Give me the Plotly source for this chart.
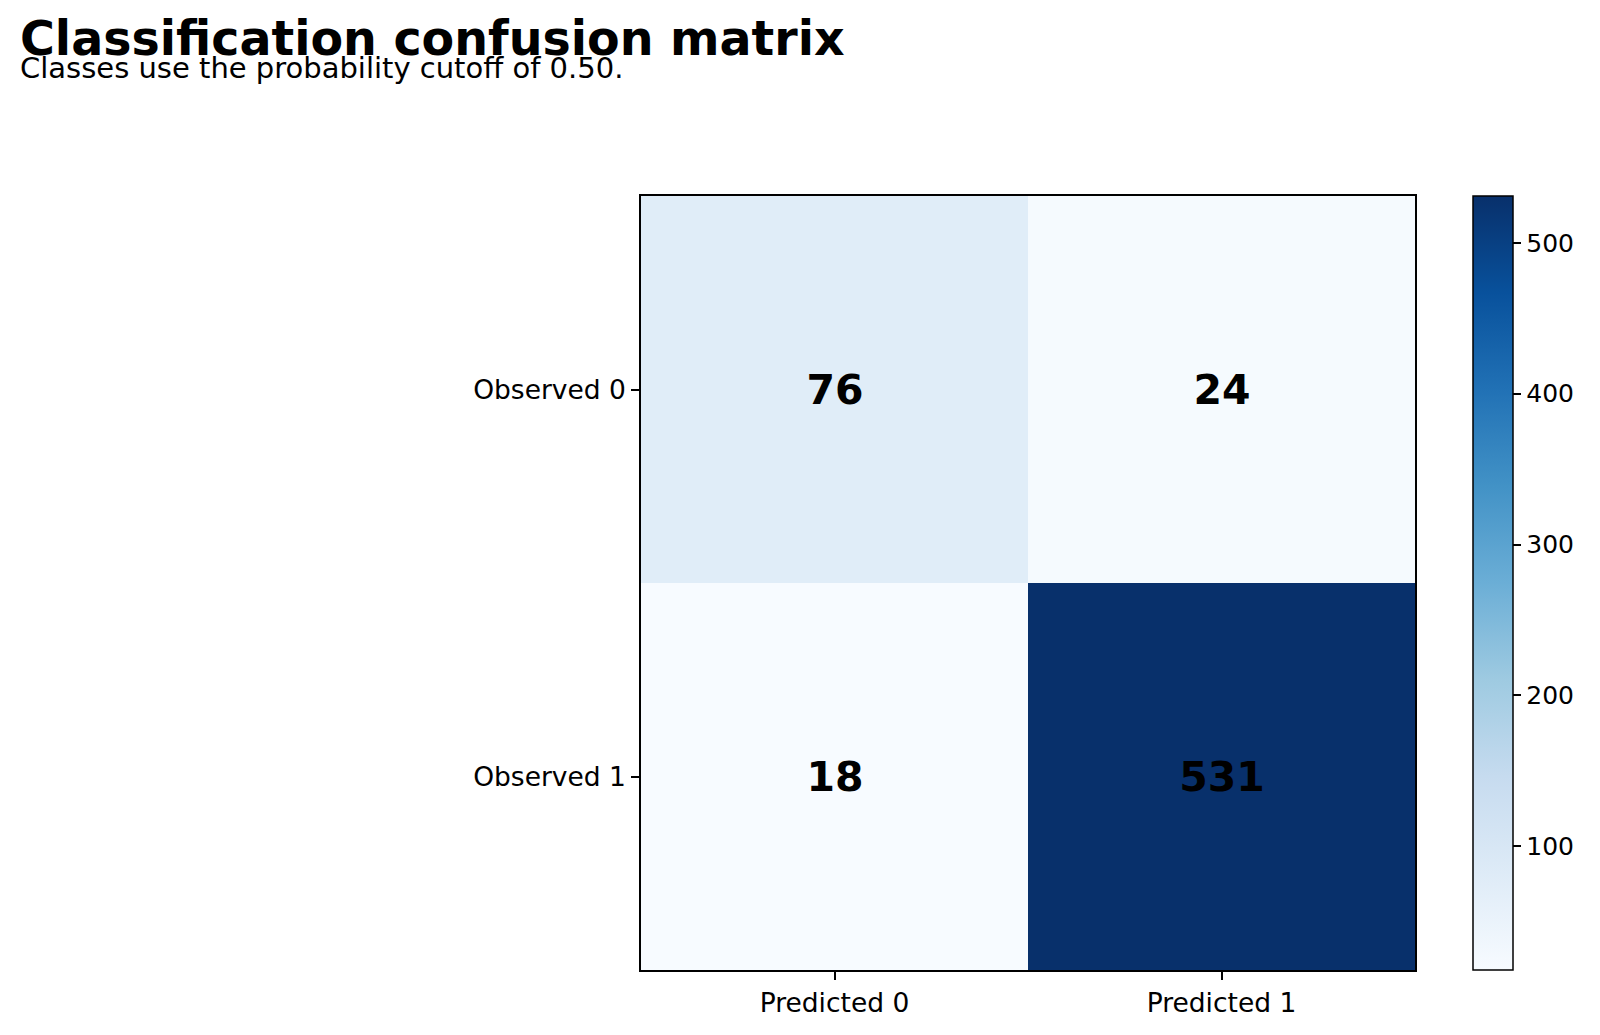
import plotly.graph_objects as go

predicted_labels = ["Predicted 0", "Predicted 1"]
observed_labels = ["Observed 0", "Observed 1"]
row_observed_0 = [76, 24]
row_observed_1 = [18, 531]
colorbar_ticks = [100, 200, 300, 400, 500]

title_text = "Classification confusion matrix"
subtitle_text = "Classes use the probability cutoff of 0.50."

z = [row_observed_0, row_observed_1]
zmin = min(min(r) for r in z)
zmax = max(max(r) for r in z)

blues = [
    [0.0, "#f7fbff"], [0.125, "#deebf7"], [0.25, "#c6dbef"], [0.375, "#9ecae1"],
    [0.5, "#6baed6"], [0.625, "#4292c6"], [0.75, "#2171b5"], [0.875, "#08519c"],
    [1.0, "#08306b"],
]

FONT = "DejaVu Sans"
W, H = 1600, 1035
L, R, T, B = 641, 185, 196, 65
plot_w = W - L - R
plot_h = H - T - B

fig = go.Figure(go.Heatmap(
    z=z, x=predicted_labels, y=observed_labels,
    zmin=zmin, zmax=zmax, colorscale=blues,
    text=[[str(v) for v in r] for r in z],
    texttemplate="<b>%{text}</b>",
    textfont=dict(family=FONT, size=41, color="black"),
    xgap=0, ygap=0,
    colorbar=dict(
        thicknessmode="pixels", thickness=40,
        lenmode="pixels", len=plot_h,
        x=(1473 - L) / plot_w, xanchor="left",
        y=0.5, yanchor="middle",
        outlinewidth=1.5, outlinecolor="black",
        tickmode="array", tickvals=colorbar_ticks,
        ticks="outside", ticklen=8, tickwidth=1.5, tickcolor="black",
        tickfont=dict(family=FONT, size=25, color="black"),
        xpad=0, ypad=0,
    ),
    hoverinfo="skip",
))

axis_common = dict(
    showline=True, linecolor="black", linewidth=1.5, mirror=True,
    ticks="outside", ticklen=8, tickwidth=1.5, tickcolor="black",
    tickfont=dict(family=FONT, size=26.5, color="black"),
    showgrid=False, zeroline=False,
)
fig.update_xaxes(**axis_common)
fig.update_yaxes(autorange="reversed", **axis_common)

fig.update_layout(
    width=W, height=H,
    margin=dict(l=L, r=R, t=T, b=B),
    paper_bgcolor="white", plot_bgcolor="white",
    font=dict(family=FONT, color="black"),
    annotations=[
        dict(text="<b>" + title_text + "</b>", xref="paper", yref="paper",
             x=-(L - 18) / plot_w, y=1 + (T - 9) / plot_h,
             xanchor="left", yanchor="top", showarrow=False,
             font=dict(family=FONT, size=47.5, color="black")),
        dict(text=subtitle_text, xref="paper", yref="paper",
             x=-(L - 18) / plot_w, y=1 + (T - 49) / plot_h,
             xanchor="left", yanchor="top", showarrow=False,
             font=dict(family=FONT, size=29, color="black")),
    ],
)

fig.write_html("out.html")
